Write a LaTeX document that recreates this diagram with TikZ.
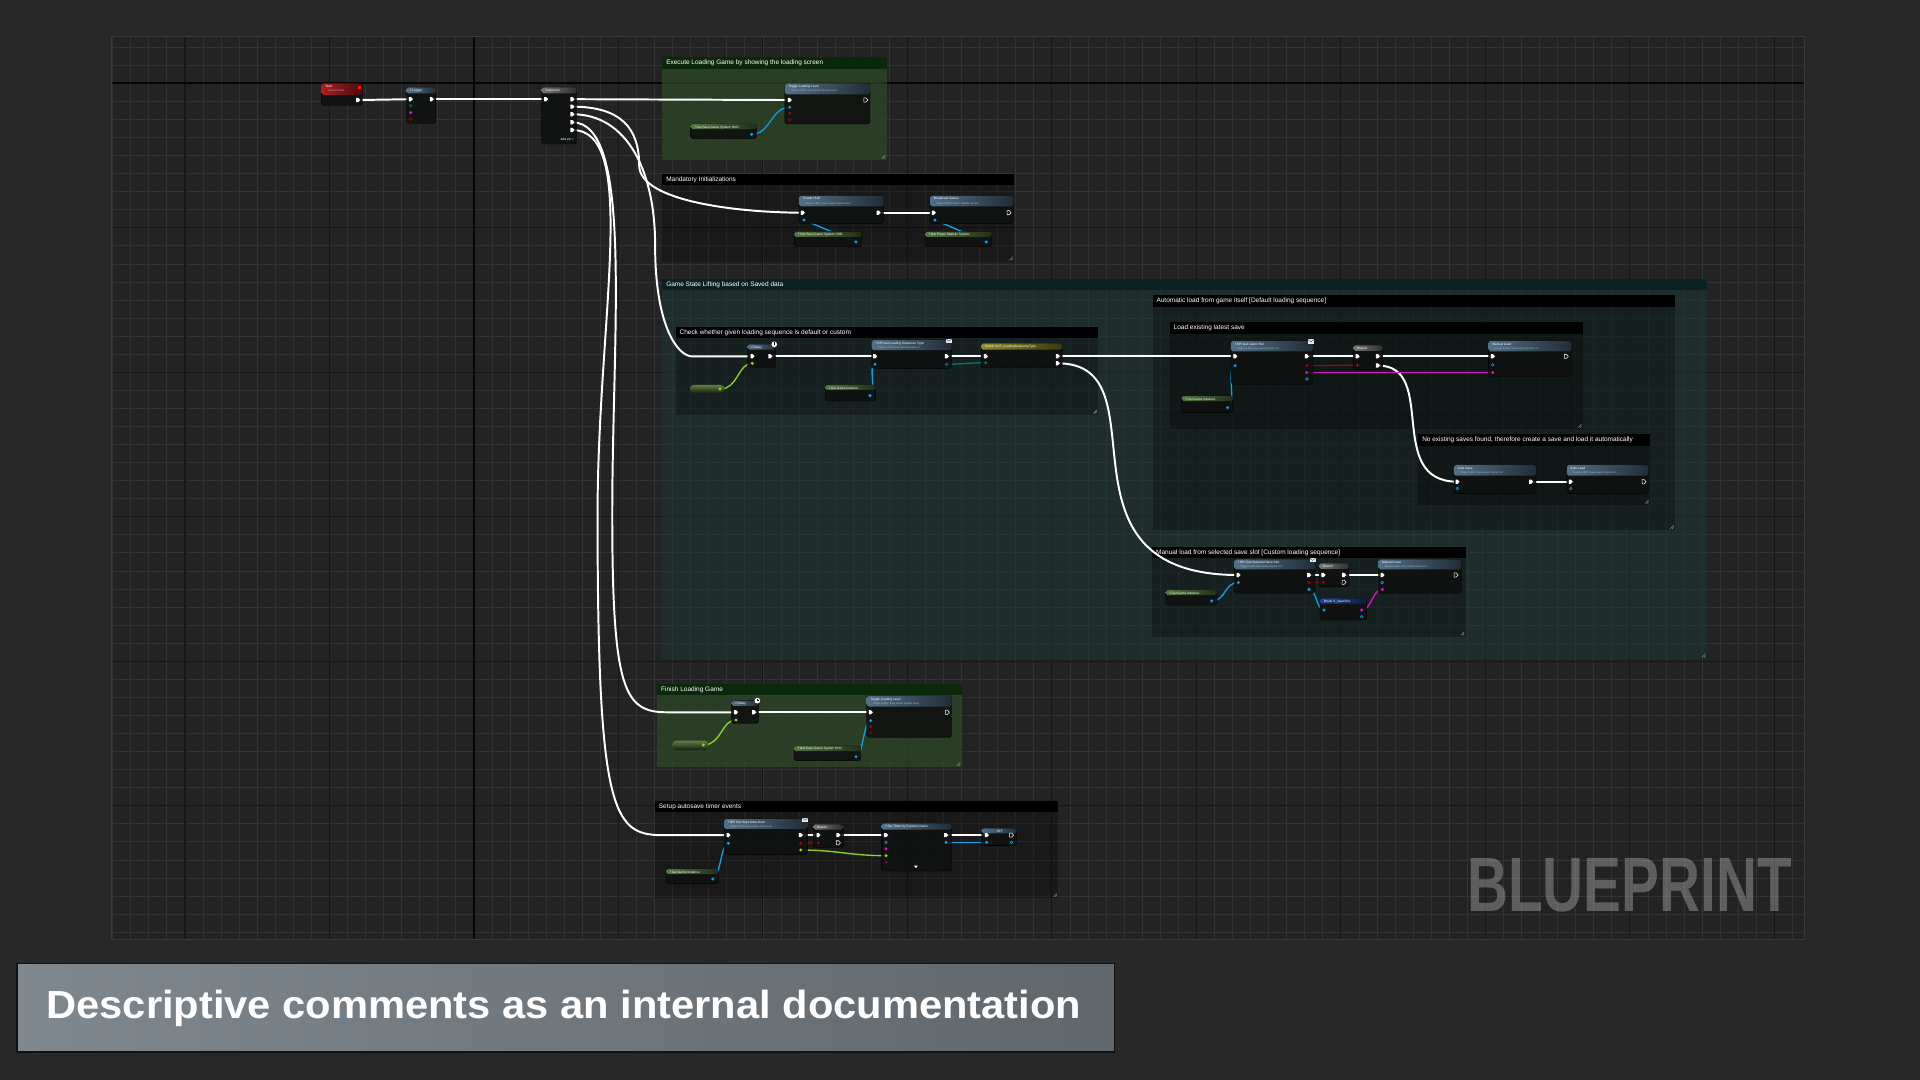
\documentclass[tikz,border=0pt]{standalone}
\usepackage{fontspec}
\setmainfont{Liberation Sans}
\usepackage{graphicx}
\usetikzlibrary{calc}

\pgfdeclarelayer{bglayer}
\pgfdeclarelayer{wirelayer}
\pgfsetlayers{bglayer,wirelayer,main}

\definecolor{canvas}{RGB}{40,40,40}
\definecolor{gridbg}{RGB}{35,35,35}
\definecolor{gridminor}{RGB}{50,50,50}
\definecolor{gridmajor}{RGB}{22,22,22}
\definecolor{gridaxis}{RGB}{6,6,6}
\definecolor{gridedge}{RGB}{58,58,58}
\definecolor{nodefill}{RGB}{16,17,17}
\definecolor{subtext}{RGB}{165,185,200}
\definecolor{wireblue}{RGB}{10,160,235}
\definecolor{wiregreen}{RGB}{140,210,40}
\definecolor{wirered}{RGB}{150,10,10}
\definecolor{wirepink}{RGB}{220,20,200}
\definecolor{wireteal}{RGB}{0,115,105}
\definecolor{hdrfunc}{RGB}{82,112,136}
\definecolor{hdrpure}{RGB}{82,118,64}
\definecolor{hdrevent}{RGB}{175,30,30}
\definecolor{hdrflow}{RGB}{118,118,118}
\definecolor{hdrswitch}{RGB}{140,140,40}
\definecolor{hdrstruct}{RGB}{35,70,150}
\definecolor{pilltop}{RGB}{95,125,65}
\definecolor{pillbot}{RGB}{22,30,18}
\definecolor{cmtgreen}{RGB}{45,70,38}
\definecolor{cmtgreenhdr}{RGB}{10,40,10}
\definecolor{cmtteal}{RGB}{28,56,56}
\definecolor{cmttealhdr}{RGB}{8,34,34}
\definecolor{capleft}{RGB}{128,136,143}
\definecolor{capright}{RGB}{95,103,108}
\definecolor{capborder}{RGB}{18,18,18}

% comment box: name, x1, y1, x2, y2, header colour, body style, text
\newcommand{\bpcomment}[8]{%
  \fill[#7] (#2,#3) rectangle (#4,#5);
  \fill[#6] (#2,#3) rectangle (#4,#3+9.3);
  \node[cmttext, name=#1] at (#2+3,#3+4.8) {#8};
  \draw[gray!70, line width=0.3pt] (#4-4,#5-1.2) -- (#4-1.2,#5-4) (#4-2.4,#5-1.2) -- (#4-1.2,#5-2.4);}
% blueprint node: name, x1, y1, x2, y2, header bottom, header colour, title, subtitle
\newcommand{\bpnode}[9]{%
  \coordinate (#1) at (#2,#3);
  \fill[nodebody] (#2,#3) rectangle (#4,#5);
  \shade[left color=#7, right color=#7!40!black, rounded corners=1.5pt] (#2,#3) rectangle (#4,#6);
  \node[bptitle, name=#1-title] at (#2+3,#3+2.6) {#8};
  \node[bpsub, name=#1-sub] at (#2+5,#3+6.3) {#9};}
\newcommand{\execpin}[3]{%
  \coordinate (#1) at (#2,#3);
  \fill[white] (#2-1.5,#3-1.7) -- (#2+0.2,#3-1.7) -- (#2+1.8,#3) -- (#2+0.2,#3+1.7) -- (#2-1.5,#3+1.7) -- cycle;}
\newcommand{\execopen}[3]{%
  \coordinate (#1) at (#2,#3);
  \draw[white, line width=0.45pt, line join=round] (#2-1.5,#3-1.7) -- (#2+0.2,#3-1.7) -- (#2+1.8,#3) -- (#2+0.2,#3+1.7) -- (#2-1.5,#3+1.7) -- cycle;}
\newcommand{\datapin}[4]{%
  \coordinate (#1) at (#2,#3);
  \fill[#4] (#2,#3) circle (1.35pt);}
\newcommand{\dataopen}[4]{%
  \coordinate (#1) at (#2,#3);
  \draw[#4, line width=0.45pt] (#2,#3) circle (1.1pt);}
\newcommand{\bpclock}[2]{%
  \fill[white] (#1,#2) circle (2.3pt);
  \draw[black, line width=0.3pt] (#1,#2) -- ++(0,-1.5) (#1,#2) -- ++(1,0);}
\newcommand{\bpmsg}[2]{%
  \fill[white!85!hdrfunc] (#1-2.4,#2-1.8) rectangle (#1+2.4,#2+1.8);
  \draw[hdrfunc!60!black, line width=0.3pt] (#1-2.4,#2-1.8) -- (#1,#2+0.2) -- (#1+2.4,#2-1.8);}
\newcommand{\bppill}[4]{%
  \shade[top color=pilltop, bottom color=pillbot, rounded corners=3pt] (#1,#2) rectangle (#3,#4);}

\begin{document}
\begin{tikzpicture}[x=1pt,y=-1pt,
  nodebody/.style={fill=nodefill, fill opacity=0.92, draw=black, line width=0.3pt, rounded corners=1.5pt},
  bptitle/.style={anchor=west, inner sep=0pt, text=white, font=\fontsize{2.6}{3}\selectfont},
  bpsub/.style={anchor=west, inner sep=0pt, text=subtext, font=\fontsize{2.1}{2.5}\selectfont},
  cmttext/.style={anchor=west, inner sep=0pt, text=white, font=\fontsize{5.3}{6}\selectfont},
  execwire/.style={draw=white, line width=1.6pt, line cap=round},
  datawire/.style={line width=1.1pt, line cap=round},
  cmtdark/.style={fill=black, fill opacity=0.28},
  cmtgreenbody/.style={fill=cmtgreen, fill opacity=0.75},
  cmttealbody/.style={fill=cmtteal, fill opacity=0.5},
  captext/.style={anchor=base, inner sep=0pt, text=white, font=\fontsize{32}{36}\selectfont\bfseries},
  watermark/.style={anchor=south west, inner sep=0pt, text=white, text opacity=0.27, font=\fontsize{63}{63}\selectfont\bfseries}]
\useasboundingbox (0,0) rectangle (1568,882);

\begin{pgfonlayer}{bglayer}
\fill[canvas] (0,0) rectangle (1568,882);
\fill[gridbg] (91,30) rectangle (1474,767);
\begin{scope}
  \clip (91,30) rectangle (1474,767);
  \foreach \i in {0,...,94} \draw[gridminor, line width=0.6pt] (92+\i*14.75,30) -- (92+\i*14.75,767);
  \foreach \j in {0,...,50} \draw[gridminor, line width=0.6pt] (91,23.75+\j*14.75) -- (1474,23.75+\j*14.75);
  \foreach \i in {0,...,11} \draw[gridmajor, line width=1pt] (151+\i*118,30) -- (151+\i*118,767);
  \foreach \j in {0,...,5} \draw[gridmajor, line width=1pt] (91,68+\j*118) -- (1474,68+\j*118);
  \draw[gridaxis, line width=1.4pt] (387,30) -- (387,767) (91,68) -- (1474,68);
\end{scope}
\draw[gridedge, line width=0.8pt] (91,30) rectangle (1474,767);

\bpcomment{cmt-exec}{540.9}{46.8}{724.1}{130.7}{cmtgreenhdr}{cmtgreenbody}{Execute Loading Game by showing the loading screen}
\bpcomment{cmt-init}{540.9}{142.1}{828.3}{213.7}{black}{cmtdark}{Mandatory Initializations}
\bpcomment{cmt-lift}{540.9}{227.8}{1394}{538}{cmttealhdr}{cmttealbody}{Game State Lifting based on Saved data}
\bpcomment{cmt-check}{551.8}{266.8}{897}{338.9}{black}{cmtdark}{Check whether given loading sequence is default or custom}
\bpcomment{cmt-auto}{941.3}{241.2}{1368}{433}{black}{cmtdark}{Automatic load from game itself [Default loading sequence]}
\bpcomment{cmt-latest}{955.3}{263.1}{1292.8}{350.3}{black}{cmtdark}{Load existing latest save}
\bpcomment{cmt-nosave}{1158.3}{354.7}{1347.5}{412.4}{black}{cmtdark}{No existing saves found, therefore create a save and load it automatically}
\bpcomment{cmt-manual}{941}{446.4}{1197}{520}{black}{cmtdark}{Manual load from selected save slot [Custom loading sequence]}
\bpcomment{cmt-finish}{536.8}{558.6}{785.4}{626.6}{cmtgreenhdr}{cmtgreenbody}{Finish Loading Game}
\bpcomment{cmt-timer}{534.9}{654.1}{864.3}{733.6}{black}{cmtdark}{Setup autosave timer events}
\end{pgfonlayer}

% entry
\bpnode{start}{262.7}{68}{296}{86}{77.5}{hdrevent}{Start}{Custom Event}
\fill[red!90!white] (292.6,70.4) rectangle (295,72.8);
\execpin{start-out}{292.4}{81.7}
\bpnode{logger}{332}{71.3}{356}{100.7}{76.3}{hdrfunc}{\textit{f} Logger}{}
\execpin{logger-in}{335.4}{81}
\execpin{logger-out}{352.5}{81}
\dataopen{logger-a}{335.4}{86.3}{wireteal}
\datapin{logger-b}{335.4}{92}{wirepink}
\dataopen{logger-c}{335.4}{97.4}{wirered}
\bpnode{seq}{442.4}{71.3}{471}{117.6}{76.3}{hdrflow}{Sequence}{}
\execpin{seq-in}{445.9}{81}
\foreach \n/\y in {0/81,1/87.1,2/93.3,3/99.9,4/106.2} {\execpin{seq-o\n}{467.4}{\y}}
\node[bptitle, anchor=east, name=seq-add] at (469,114.3) {Add pin +};

% loading screen
\bpnode{toggle1}{641}{68}{710.5}{101.3}{77}{hdrfunc}{Toggle Loading Level}{Target is BPC Save Game System HUD}
\execpin{toggle1-in}{644.9}{81.7}
\execopen{toggle1-out}{707}{81.7}
\datapin{toggle1-blue}{644.9}{87.6}{wireblue}
\datapin{toggle1-b}{644.9}{92.5}{wirered}
\dataopen{toggle1-c}{644.9}{97.9}{wirered}
\bpnode{getsave1}{564}{101.3}{618}{113}{105.5}{hdrpure}{\textit{f} Get Save Game System HUD}{}
\datapin{getsave1-out}{613.9}{109.7}{wireblue}

% initializations
\bpnode{create}{652.5}{159.8}{721.7}{182.4}{168.5}{hdrfunc}{Create HUD}{Target is BPC Save Game System HUD}
\execpin{create-in}{655.5}{173.7}
\execpin{create-out}{717.4}{173.7}
\datapin{create-blue}{656.6}{179.7}{wireblue}
\bpnode{gethud}{648.7}{189.2}{703.7}{201.5}{193.5}{hdrpure}{\textit{f} Get Save Game System HUD}{}
\datapin{gethud-out}{699}{197.6}{wireblue}
\bpnode{bcast}{759.5}{159.8}{827.5}{182.4}{168.5}{hdrfunc}{Broadcast Values}{Target is BPC Player Statistic System}
\execpin{bcast-in}{762.5}{173.7}
\execopen{bcast-out}{824}{173.7}
\datapin{bcast-blue}{763.5}{179.7}{wireblue}
\bpnode{getstat}{755.4}{189.2}{809.9}{201.5}{193.5}{hdrpure}{\textit{f} Get Player Statistic System}{}
\datapin{getstat-out}{805.5}{197.6}{wireblue}

% loading sequence check
\bpnode{delay1}{610.6}{281.2}{633.5}{300.3}{285.5}{hdrfunc}{\textit{f} Delay}{}
\bpclock{632.3}{281.2}
\execpin{delay1-in}{614.4}{291}
\execpin{delay1-out}{629}{291}
\datapin{delay1-dur}{614.4}{296.7}{wiregreen}
\bppill{563.5}{314.4}{591.5}{321.2}
\datapin{float1-out}{588}{317.7}{wiregreen}
\bpnode{getseq}{711.9}{277.7}{777.2}{300.8}{286}{hdrfunc}{\textit{f} BPI Get Loading Sequence Type}{Target is BPI Save Game System UI}
\bpmsg{775}{278.5}
\execpin{getseq-in}{714.6}{291}
\execpin{getseq-out}{773.1}{291}
\datapin{getseq-blue}{714.6}{297.5}{wireblue}
\datapin{getseq-enum}{773.1}{297.5}{wireteal}
\bpnode{gameinst1}{673.7}{314.4}{715.1}{327.5}{318.5}{hdrpure}{\textit{f} Get Game Instance}{}
\datapin{gameinst1-out}{710.5}{323.1}{wireblue}
\bpnode{switch}{801.2}{280.4}{867.5}{300.3}{285.5}{hdrswitch}{Switch on E\_LoadingSequenceType}{}
\execpin{switch-in}{805}{291}
\execpin{switch-o1}{863.7}{291}
\execpin{switch-o2}{863.7}{296.7}
\datapin{switch-enum}{805}{296.2}{wireteal}

% automatic load
\bpnode{latest}{1005.3}{278.3}{1072.3}{313.8}{287}{hdrfunc}{\textit{f} BPI Get Latest Slot}{Target is BPI Save Game System UI}
\bpmsg{1070.5}{279}
\execpin{latest-in}{1008.7}{291}
\execpin{latest-out}{1067.2}{291}
\datapin{latest-blue}{1008.7}{298.6}{wireblue}
\datapin{latest-red}{1067.2}{298.6}{wirered}
\datapin{latest-struct}{1067.2}{304.2}{wirepink}
\dataopen{latest-x}{1067.2}{309.5}{wireblue}
\bpnode{branch1}{1105.2}{282}{1129.1}{301.7}{286.5}{hdrflow}{Branch}{}
\execpin{branch1-in}{1108.6}{291}
\datapin{branch1-cond}{1108.6}{298.2}{wirered}
\execpin{branch1-true}{1125.2}{291}
\execpin{branch1-false}{1125.2}{298.5}
\bpnode{mload1}{1215.7}{278.3}{1283.2}{307.3}{287}{hdrfunc}{Manual Load}{Target is BPC Save Game System UI}
\execpin{mload1-in}{1219.1}{291}
\execopen{mload1-out}{1279}{291}
\dataopen{mload1-a}{1219.1}{298}{wireblue}
\datapin{mload1-struct}{1219.1}{304.2}{wirepink}
\bpnode{gameinst2}{965.1}{323.3}{1006.8}{336.8}{327.5}{hdrpure}{\textit{f} Get Game Instance}{}
\datapin{gameinst2-out}{1002.5}{332.9}{wireblue}
\bpnode{autosave}{1187.4}{379.7}{1254.4}{402.9}{388.5}{hdrfunc}{Auto Save}{Target is BPC Save Game System UI}
\execpin{autosave-in}{1190.2}{393.4}
\execpin{autosave-out}{1250.3}{393.4}
\dataopen{autosave-a}{1190.2}{399}{wireblue}
\bpnode{autoload}{1279.5}{379.7}{1346.1}{402.9}{388.5}{hdrfunc}{Auto Load}{Target is BPC Save Game System UI}
\execpin{autoload-in}{1282.7}{393.4}
\execopen{autoload-out}{1342.5}{393.4}
\dataopen{autoload-a}{1282.7}{399}{wireblue}

% manual load
\bpnode{selslot}{1008}{456.8}{1073.9}{484.5}{465}{hdrfunc}{\textit{f} BPI Get Selected Save Slot}{Target is BPI Save Game System UI}
\bpmsg{1072}{457.5}
\execpin{selslot-in}{1011.3}{469.6}
\execpin{selslot-out}{1069}{469.6}
\datapin{selslot-blue}{1011.3}{475.8}{wireblue}
\datapin{selslot-red}{1069}{475.8}{wirered}
\datapin{selslot-slot}{1069}{481.3}{wireblue}
\bpnode{branch2}{1077.2}{460}{1101.7}{479.1}{464.5}{hdrflow}{Branch}{}
\execpin{branch2-in}{1080.7}{469.6}
\datapin{branch2-cond}{1080.7}{475.5}{wirered}
\execpin{branch2-true}{1097.6}{469.6}
\execopen{branch2-false}{1097.6}{475.5}
\bpnode{mload2}{1125.6}{456.8}{1193.2}{484.5}{465}{hdrfunc}{Manual Load}{Target is BPC Save Game System UI}
\execpin{mload2-in}{1128.9}{469.6}
\execopen{mload2-out}{1189}{469.6}
\dataopen{mload2-a}{1128.9}{475.8}{wireblue}
\datapin{mload2-struct}{1128.9}{481.3}{wirepink}
\bpnode{gameinst3}{952}{481.8}{994}{494.1}{486}{hdrpure}{\textit{f} Get Game Instance}{}
\datapin{gameinst3-out}{989.5}{490.8}{wireblue}
\bpnode{break}{1078}{488.6}{1116.1}{506.3}{493}{hdrstruct}{Break S\_SaveSlot}{}
\datapin{break-in}{1081.3}{498.2}{wireblue}
\datapin{break-out}{1112}{498.2}{wirepink}
\dataopen{break-x}{1112}{503.6}{wireblue}

% finish
\bpnode{delay2}{597.5}{572.2}{619.3}{590.7}{576.5}{hdrfunc}{\textit{f} Delay}{}
\bpclock{618.5}{572.2}
\execpin{delay2-in}{601}{581.7}
\execpin{delay2-out}{615.8}{581.7}
\datapin{delay2-dur}{601}{588}{wiregreen}
\bppill{549.3}{604.9}{578.5}{612.5}
\datapin{float2-out}{574.4}{608.4}{wiregreen}
\bpnode{toggle2}{707.8}{568.4}{777.2}{602.1}{577}{hdrfunc}{Toggle Loading Level}{Target is BPC Save Game System HUD}
\execpin{toggle2-in}{711}{581.7}
\execopen{toggle2-out}{773.6}{581.7}
\datapin{toggle2-blue}{711}{588.5}{wireblue}
\datapin{toggle2-b}{711}{593.5}{wirered}
\dataopen{toggle2-c}{711}{598.5}{wirered}
\bpnode{getsave2}{648.4}{609.2}{702.9}{621.2}{613.5}{hdrpure}{\textit{f} Get Save Game System HUD}{}
\datapin{getsave2-out}{699}{618}{wireblue}

% autosave timer
\bpnode{meta}{591.3}{668.9}{659.3}{697.7}{677}{hdrfunc}{\textit{f} BPI Get Save Meta Data}{Target is BPI Save Game System UI}
\bpmsg{657.5}{669.6}
\execpin{meta-in}{594.8}{682}
\execpin{meta-out}{653.9}{682}
\datapin{meta-blue}{594.8}{688.7}{wireblue}
\datapin{meta-red}{653.9}{688.7}{wirered}
\datapin{meta-green}{653.9}{694.2}{wiregreen}
\bpnode{branch3}{664.2}{673.2}{688.7}{692.3}{677.5}{hdrflow}{Branch}{}
\execpin{branch3-in}{668.3}{682}
\datapin{branch3-cond}{668.3}{688.3}{wirered}
\execpin{branch3-true}{684.6}{682}
\execopen{branch3-false}{684.6}{688.3}
\bpnode{timer}{720}{672.4}{777.2}{711.3}{677.5}{hdrfunc}{\textit{f} Set Timer by Function Name}{}
\execpin{timer-in}{723.6}{682}
\dataopen{timer-a}{723.6}{687.9}{wireblue}
\datapin{timer-b}{723.6}{693.2}{wirepink}
\datapin{timer-time}{723.6}{698.8}{wiregreen}
\dataopen{timer-c}{723.6}{704}{wirered}
\execpin{timer-out}{772.6}{682}
\datapin{timer-handle}{772.6}{687.9}{wireblue}
\fill[white] (746.5,707) -- (749.5,707) -- (748,709) -- cycle;
\bpnode{setnode}{801.7}{676.5}{830.3}{690.6}{680.5}{hdrfunc}{\hspace{9pt}SET}{}
\execpin{setnode-in}{805.8}{682}
\datapin{setnode-val}{805.8}{687.9}{wireblue}
\execopen{setnode-out}{826}{682}
\dataopen{setnode-x}{826}{687.9}{wireblue}
\bpnode{gameinst4}{543.9}{709.7}{586.6}{721.4}{713.8}{hdrpure}{\textit{f} Get Game Instance}{}
\datapin{gameinst4-out}{582}{717.8}{wireblue}

\begin{pgfonlayer}{wirelayer}
\draw[execwire] (start-out) -- (logger-in);
\draw[execwire] (logger-out) -- (seq-in);
\draw[execwire] (seq-o0) -- (toggle1-in);
\draw[execwire] (seq-o1) .. controls +(40,0) and +(0,-30) .. (522,135) .. controls +(0,30) and +(-50,0) .. (create-in);
\draw[execwire] (seq-o2) .. controls +(45,0) and +(0,-60) .. (535,200) .. controls +(0,70) and +(-10,0) .. (565,291) -- (delay1-in);
\draw[execwire] (seq-o3) .. controls +(50,0) and +(0,-150) .. (500,420) .. controls +(0,145) and +(-35,0) .. (545,581.7) -- (delay2-in);
\draw[execwire] (seq-o4) .. controls +(55,0) and +(0,-160) .. (488,420) .. controls +(0,240) and +(-40,0) .. (540,682) -- (meta-in);
\draw[execwire] (create-out) -- (bcast-in);
\draw[execwire] (delay1-out) -- (getseq-in);
\draw[execwire] (getseq-out) -- (switch-in);
\draw[execwire] (switch-o1) -- (latest-in);
\draw[execwire] (switch-o2) .. controls +(90,0) and +(-160,0) .. (selslot-in);
\draw[execwire] (latest-out) -- (branch1-in);
\draw[execwire] (branch1-true) -- (mload1-in);
\draw[execwire] (branch1-false) .. controls +(50,0) and +(-60,0) .. (autosave-in);
\draw[execwire] (autosave-out) -- (autoload-in);
\draw[execwire] (selslot-out) -- (branch2-in);
\draw[execwire] (branch2-true) -- (mload2-in);
\draw[execwire] (delay2-out) -- (toggle2-in);
\draw[execwire] (meta-out) -- (branch3-in);
\draw[execwire] (branch3-true) -- (timer-in);
\draw[execwire] (timer-out) -- (setnode-in);
\draw[datawire, wireblue] (getsave1-out) .. controls +(15,0) and +(-15,0) .. (toggle1-blue);
\draw[datawire, wireblue] (create-blue) -- (gethud-out);
\draw[datawire, wireblue] (bcast-blue) -- (getstat-out);
\draw[datawire, wiregreen] (float1-out) .. controls +(15,0) and +(-12,0) .. (delay1-dur);
\draw[datawire, wireblue] (gameinst1-out) .. controls +(6,0) and +(-6,0) .. (getseq-blue);
\draw[datawire, wireteal] (getseq-enum) .. controls +(12,0) and +(-12,0) .. (switch-enum);
\draw[datawire, wireblue] (gameinst2-out) .. controls +(8,0) and +(-8,0) .. (latest-blue);
\draw[datawire, wirered] (latest-red) -- (branch1-cond);
\draw[datawire, wirepink] (latest-struct) -- (mload1-struct);
\draw[datawire, wireblue] (gameinst3-out) .. controls +(12,0) and +(-12,0) .. (selslot-blue);
\draw[datawire, wirered] (selslot-red) -- (branch2-cond);
\draw[datawire, wireblue] (selslot-slot) .. controls +(6,0) and +(-6,0) .. (break-in);
\draw[datawire, wirepink] (break-out) .. controls +(8,0) and +(-8,0) .. (mload2-struct);
\draw[datawire, wiregreen] (float2-out) .. controls +(15,0) and +(-12,0) .. (delay2-dur);
\draw[datawire, wireblue] (getsave2-out) .. controls +(6,0) and +(-6,0) .. (toggle2-blue);
\draw[datawire, wireblue] (gameinst4-out) .. controls +(6,0) and +(-6,0) .. (meta-blue);
\draw[datawire, wirered] (meta-red) -- (branch3-cond);
\draw[datawire, wiregreen] (meta-green) .. controls +(30,0) and +(-30,0) .. (timer-time);
\draw[datawire, wireblue] (timer-handle) -- (setnode-val);
\end{pgfonlayer}

\node[watermark, name=wm] at (1198,745) {\resizebox{265pt}{\height}{BLUEPRINT}};

\shade[left color=capleft, right color=capright, draw=capborder, line width=1.2pt] (14,787) rectangle (910,859);
\node[captext, name=caption] at (460.5,832) {\resizebox{845pt}{\height}{Descriptive comments as an internal documentation}};
\end{tikzpicture}
\end{document}
